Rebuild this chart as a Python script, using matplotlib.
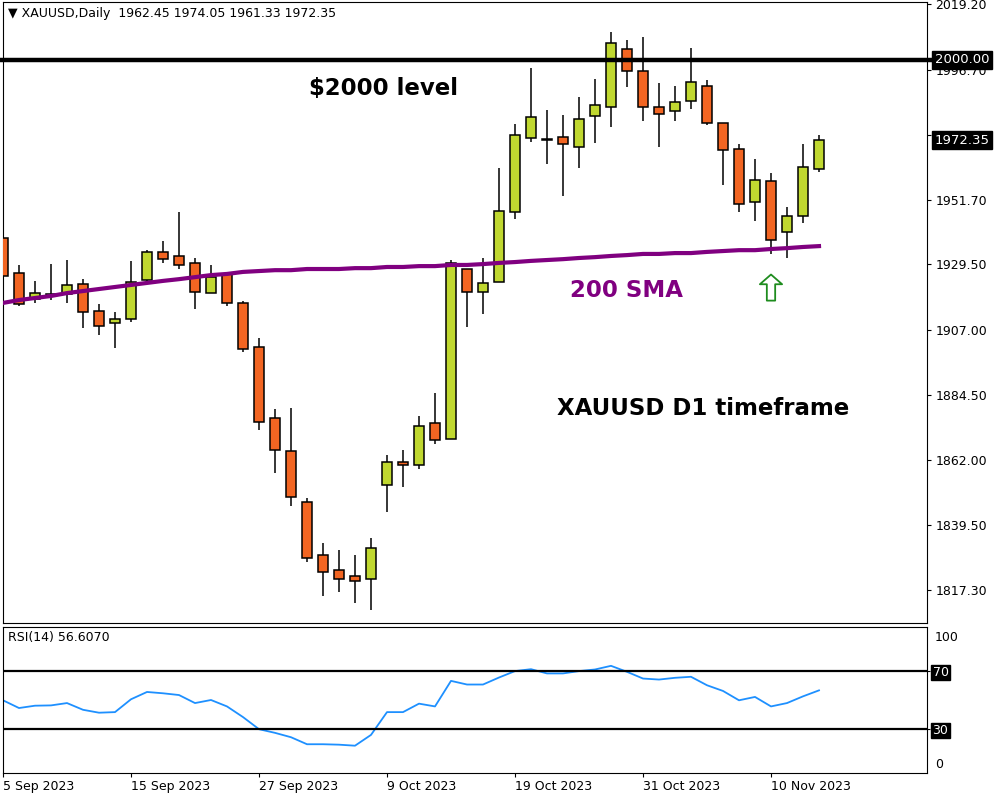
import numpy as np
import matplotlib.pyplot as plt
from matplotlib.transforms import blended_transform_factory

# XAUUSD daily candles (5 Sep 2023 .. 15 Nov 2023)
opens = [1938.6, 1926.5, 1917.5, 1918.6, 1919.3, 1922.7, 1913.4, 1909.3, 1910.6, 1924.1,
         1933.8, 1932.4, 1930.0, 1919.6, 1926.2, 1916.2, 1901.0, 1876.5, 1865.1, 1847.5,
         1829.2, 1824.0, 1822.0, 1820.9, 1853.4, 1861.3, 1860.3, 1874.8, 1869.2, 1927.9,
         1920.0, 1923.4, 1947.6, 1973.1, 1972.4, 1973.4, 1970.0, 1980.7, 1983.8, 2003.8,
         1996.2, 1983.8, 1982.4, 1985.9, 1991.0, 1978.3, 1969.3, 1951.0, 1958.3, 1940.7,
         1946.2, 1962.45]
highs = [1939.3, 1929.3, 1923.8, 1929.6, 1931.0, 1924.4, 1915.8, 1913.1, 1930.7, 1934.4,
         1937.6, 1947.6, 1931.7, 1929.3, 1926.9, 1916.9, 1904.1, 1879.6, 1879.9, 1848.9,
         1833.4, 1830.9, 1829.2, 1835.1, 1863.7, 1865.4, 1877.2, 1885.1, 1931.0, 1927.9,
         1931.7, 1962.7, 1977.9, 1997.2, 1982.8, 1981.0, 1987.2, 1993.4, 2009.7, 2006.9,
         2007.9, 1992.1, 1991.0, 2004.1, 1993.1, 1978.3, 1971.0, 1965.8, 1961.0, 1949.3,
         1971.0, 1974.05]
lows = [1924.8, 1915.1, 1916.2, 1917.2, 1916.2, 1907.5, 1905.1, 1900.6, 1909.6, 1923.1,
        1930.0, 1927.9, 1914.1, 1919.6, 1915.1, 1899.3, 1872.3, 1857.5, 1846.1, 1826.8,
        1815.1, 1816.5, 1812.7, 1810.2, 1844.1, 1852.7, 1858.9, 1867.5, 1869.2, 1907.9,
        1912.4, 1923.4, 1945.1, 1971.7, 1964.1, 1953.1, 1962.7, 1971.4, 1976.9, 1990.7,
        1979.0, 1970.0, 1979.0, 1983.1, 1977.6, 1956.9, 1947.6, 1944.5, 1933.1, 1931.7,
        1943.8, 1961.33]
closes = [1925.5, 1915.8, 1919.6, 1919.3, 1922.4, 1913.1, 1908.2, 1910.6, 1923.4, 1933.8,
          1931.3, 1929.3, 1920.0, 1925.1, 1916.2, 1900.3, 1875.1, 1865.4, 1849.2, 1828.2,
          1823.4, 1820.9, 1820.3, 1831.6, 1861.3, 1860.3, 1873.7, 1868.9, 1930.0, 1920.0,
          1923.1, 1947.9, 1974.1, 1980.3, 1972.6, 1971.0, 1979.6, 1984.5, 2005.9, 1996.2,
          1983.8, 1981.4, 1985.5, 1992.4, 1978.3, 1969.0, 1950.3, 1958.6, 1937.9, 1946.2,
          1963.1, 1972.35]

# 200 SMA
sma200 = [1916.2, 1917.2, 1917.9, 1918.6, 1919.6, 1920.3, 1921.0, 1921.7, 1922.4, 1923.1,
          1923.8, 1924.4, 1925.1, 1925.8, 1926.2, 1926.9, 1927.2, 1927.5, 1927.5, 1927.9,
          1927.9, 1927.9, 1928.2, 1928.2, 1928.6, 1928.6, 1928.9, 1928.9, 1929.3, 1929.3,
          1929.6, 1930.0, 1930.3, 1930.7, 1931.0, 1931.3, 1931.7, 1932.0, 1932.4, 1932.7,
          1933.1, 1933.1, 1933.4, 1933.4, 1933.8, 1934.1, 1934.4, 1934.4, 1934.8, 1935.1,
          1935.5, 1935.8]

# RSI(14)
rsi14 = [49.8, 44.5, 46.1, 46.3, 47.9, 43.3, 41.3, 41.7, 50.5, 55.5,
         54.6, 53.4, 47.9, 50.0, 45.6, 38.3, 30.0, 27.5, 24.5, 19.7,
         19.7, 19.4, 18.7, 26.1, 41.7, 41.7, 47.5, 45.6, 63.1, 60.6,
         60.6, 65.4, 69.8, 71.1, 68.2, 68.2, 69.8, 70.9, 73.4, 69.3,
         64.7, 64.0, 65.2, 65.9, 60.1, 56.2, 49.8, 52.1, 45.6, 47.9,
         52.5, 56.6]

date_pos = [0, 8, 16, 24, 32, 40, 48]
date_labels = ['5 Sep 2023', '15 Sep 2023', '27 Sep 2023', '9 Oct 2023',
               '19 Oct 2023', '31 Oct 2023', '10 Nov 2023']
price_ticks = [2019.20, 1996.70, 1974.20, 1951.70, 1929.50, 1907.00,
               1884.50, 1862.00, 1839.50, 1817.30]

up_col = '#C0D830'
dn_col = '#F26522'

fig = plt.figure(figsize=(10, 8), dpi=100)
ax = fig.add_axes([0.003, 0.22125, 0.924, 0.77625])
ax2 = fig.add_axes([0.003, 0.03375, 0.924, 0.1825])

x = np.arange(len(opens))
o = np.array(opens)
c = np.array(closes)
cols = [up_col if cc >= oo else dn_col for oo, cc in zip(o, c)]

ax.vlines(x, lows, highs, color='black', lw=1.1, zorder=2)
ax.bar(x, np.abs(c - o), bottom=np.minimum(o, c), width=0.62, color=cols,
       edgecolor='black', linewidth=1.1, zorder=3)
ax.plot(x, sma200, color='#800080', lw=3, zorder=4)

tr = blended_transform_factory(ax.transAxes, ax.transData)
# 2000 level line, runs into the price scale like in MT4
ax.plot([-0.004, 1.01], [2000, 2000], color='black', lw=3.2, transform=tr,
        clip_on=False, zorder=5)

ax.set_xlim(0, 57.75)
ax.set_ylim(1805.8, 2020.0)
ax.set_xticks([])
ax.yaxis.tick_right()
ax.set_yticks(price_ticks)
ax.set_yticklabels(['%.2f' % p for p in price_ticks])
ax.tick_params(axis='y', length=3, width=0.8, pad=3, labelsize=9)
for s in ax.spines.values():
    s.set_linewidth(0.8)

for val in [2000.00, 1972.35]:
    ax.text(1.0085, val, '%.2f' % val, transform=tr, ha='left', va='center',
            color='white', fontsize=9.5, zorder=10, clip_on=False,
            bbox=dict(boxstyle='square,pad=0.2', fc='black', ec='black'))

ax.text(0.0054, 0.992, '\u25BC XAUUSD,Daily  1962.45 1974.05 1961.33 1972.35',
        transform=ax.transAxes, ha='left', va='top', fontsize=9)
ax.text(0.331, 0.860, '\\$2000 level', transform=ax.transAxes, ha='left',
        va='center', fontsize=16.5, fontweight='bold', color='black')
ax.text(0.614, 0.535, '200 SMA', transform=ax.transAxes, ha='left',
        va='center', fontsize=16.5, fontweight='bold', color='#800080')
ax.text(0.600, 0.346, 'XAUUSD D1 timeframe', transform=ax.transAxes, ha='left',
        va='center', fontsize=16.5, fontweight='bold', color='black')

ax.annotate('', xy=(48, 1926.0), xytext=(48, 1917.0),
            arrowprops=dict(arrowstyle='simple,head_length=0.7,head_width=1.6,tail_width=0.6',
                            fc='white', ec='#1E8C1E', lw=1.3, shrinkA=0, shrinkB=0))

# RSI panel
ax2.plot(x, rsi14, color='#1E90FF', lw=1.3)
ax2.axhline(70, color='black', lw=1.6)
ax2.axhline(30, color='black', lw=1.6)
ax2.set_xlim(0, 57.75)
ax2.set_ylim(0, 100)
ax2.yaxis.tick_right()
ax2.set_yticks([30, 70])
ax2.set_yticklabels(['30', '70'])
ax2.tick_params(axis='y', length=2, pad=2, labelsize=9)
for lbl in ax2.get_yticklabels():
    lbl.set_color('white')
    lbl.set_bbox(dict(boxstyle='square,pad=0.1', fc='black', ec='black'))
tr2 = blended_transform_factory(ax2.transAxes, ax2.transData)
ax2.text(1.0085, 93, '100', transform=tr2, ha='left', va='center', fontsize=9)
ax2.text(1.0085, 6, '0', transform=tr2, ha='left', va='center', fontsize=9)
ax2.text(0.0054, 0.925, 'RSI(14) 56.6070', transform=ax2.transAxes,
         ha='left', va='center', fontsize=9)

ax2.set_xticks(date_pos)
ax2.set_xticklabels(date_labels, ha='left')
ax2.tick_params(axis='x', length=3, pad=2, labelsize=9)
for s in ax2.spines.values():
    s.set_linewidth(0.8)

plt.savefig('out.png', dpi=100)
